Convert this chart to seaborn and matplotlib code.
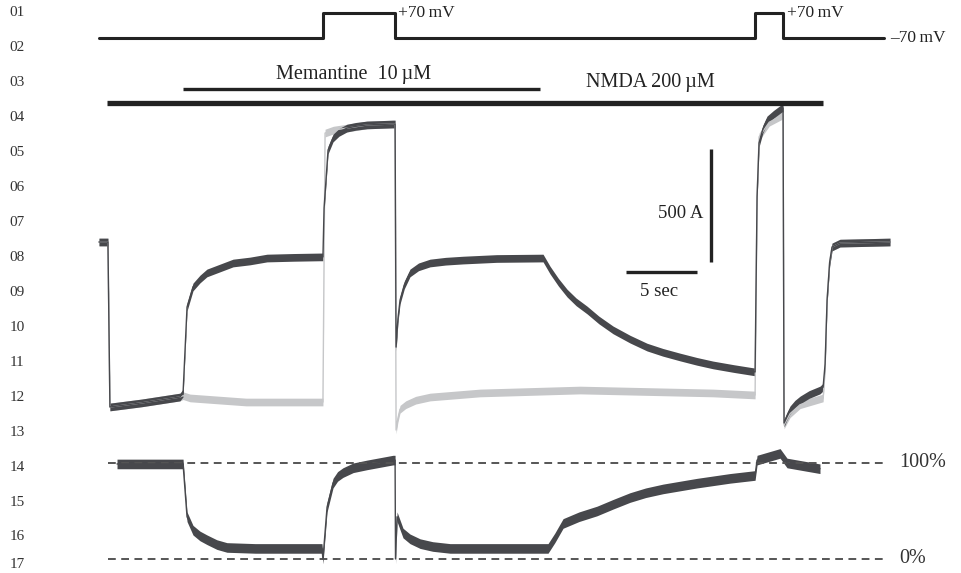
import pandas as pd
import matplotlib
matplotlib.use("Agg")
import matplotlib.pyplot as plt
import seaborn as sns

# command voltage protocol (s, mV)
v_time = [0, 15.77, 15.77, 20.85, 20.85, 46.20, 46.20, 48.17, 48.17, 55.28]
v_mV = [-70, -70, 70, 70, -70, -70, 70, 70, -70, -70]

# drug applications (start, end) in s
memantine_on = [5.92, 31.06]
nmda_on = [0.56, 50.99]

# current with memantine (dark) in pA
dark_t = [0, 0.63, 0.77, 3.0, 5.70, 5.92,
          6.20, 6.62, 7.11, 7.60, 8.52, 9.44, 10.63, 11.83, 13.7, 15.56, 15.77,
          15.85, 16.13, 16.48, 16.9, 17.46, 18.1, 18.87, 20.70, 20.85,
          20.92, 21.05, 21.20, 21.5, 21.90, 22.5, 23.31, 24.4, 25.63, 28.0, 31.27,
          31.76, 32.35, 32.96, 33.6, 34.37, 35.2, 36.20, 37.4, 38.59, 39.7, 40.92,
          42.1, 43.24, 44.7, 46.20,
          46.34, 46.48, 46.75, 47.04, 47.5, 48.10, 48.17,
          48.24, 48.45, 48.66, 49.0, 49.37, 50.0, 50.77, 50.99, 51.13, 51.27,
          51.45, 51.62, 52.18, 55.70]
dark_pA = [0, 0, -730, -712, -686, -668,
           -288, -199, -164, -137, -115, -93, -84, -71, -68, -66, -66,
           150, 407, 460, 485, 504, 512, 518, 522, 522,
           -465, -340, -257, -190, -137, -110, -93, -85, -80, -73, -71,
           -124, -178, -226, -265, -301, -345, -389, -430, -465, -488, -509,
           -528, -544, -560, -575,
           200, 438, 500, 540, 565, 593, 593,
           -801, -770, -743, -718, -699, -675, -655, -642, -540, -257,
           -90, -22, -5, 0]

# control current without memantine (light) in pA
gray_t = [0, 0.63, 0.77, 3.0, 5.70, 5.92, 6.41, 10.35, 15.56, 15.77,
          15.92, 16.5, 17.46, 18.87, 20.70, 20.85,
          20.92, 21.05, 21.20, 21.6, 22.3, 23.31, 26.83, 33.87, 43.24, 46.20,
          46.34, 46.48, 47.2, 48.17,
          48.24, 48.66, 49.37, 50.99, 51.13, 51.27, 51.45, 51.62, 52.18, 55.70]
gray_pA = [0, 0, -730, -712, -686, -680, -690, -708, -708, -708,
           482, 495, 504, 518, 522, 522,
           -832, -780, -740, -720, -700, -686, -668, -655, -668, -677,
           200, 465, 530, 562,
           -810, -760, -720, -690, -560, -257, -90, -22, -5, 0]

# ratio trace (%)
pct_t = [1.27, 5.92, 6.20, 6.62, 7.11, 7.61, 8.3, 9.01, 11.0, 14.15, 15.70,
         15.77, 16.06, 16.48, 16.8, 17.18, 17.9, 18.87, 20.70, 20.85,
         20.88, 20.99, 21.41, 21.9, 22.61, 23.5, 24.72, 31.62,
         32.1, 32.68, 33.8, 35.07, 36.2, 37.39, 38.5, 39.72, 42.11, 44.44, 46.20,
         46.34, 47.96, 48.45, 50.77]
pct = [99, 99, 44, 30, 24, 20, 15, 12, 11, 11, 11,
       0, 54, 79, 86, 90, 95, 98, 103, 103,
       0, 44, 27, 21, 16, 13, 11, 11,
       22, 37, 44, 50, 57, 64, 69, 73, 79, 84, 87,
       103, 110, 100, 94]

sns.set_theme(style="white")
plt.rcParams['font.family'] = ['Liberation Serif', 'DejaVu Serif']

fig = plt.figure(figsize=(9.61, 5.73), dpi=100)
xlim = (-6.97, 60.70)

ax_v = fig.add_axes([0, 0, 1, 1])
ax_i = fig.add_axes([0, 0, 1, 1])
ax_p = fig.add_axes([0, 0, 1, 1])
for ax in (ax_v, ax_i, ax_p):
    ax.set_xlim(*xlim)
    ax.set_axis_off()
    ax.patch.set_alpha(0)
ax_v.set_ylim(-3066, 142.8)
ax_i.set_ylim(-1464.6, 1070.8)
ax_p.set_ylim(-14.6, 582.3)

ink = "#222222"
trace = "#47484c"
light = "#c6c7c9"

# voltage protocol
sns.lineplot(x=v_time, y=v_mV, ax=ax_v, color=ink, lw=2.2, sort=False, estimator=None)
ax_v.text(21.06, 70, "+70\u2009mV", fontsize=12.5, va="center", ha="left", color=ink)
ax_v.text(48.45, 70, "+70\u2009mV", fontsize=12.5, va="center", ha="left", color=ink)
ax_v.text(55.70, -70, "\u201370\u2009mV", fontsize=12.5, va="center", ha="left", color=ink)

# drug bars
xt = ax_i.get_xaxis_transform()
ax_i.hlines(1 - 89 / 573, *memantine_on, transform=xt, color=ink, lw=2.4)
ax_i.hlines(1 - 103 / 573, *nmda_on, transform=xt, color=ink, lw=3.8)
ax_i.text(17.96, 1 - 74 / 573, "Memantine  10\u2009\u00b5M", transform=xt,
          fontsize=14.5, ha="center", va="center", color=ink)
ax_i.text(38.80, 1 - 83 / 573, "NMDA 200\u2009\u00b5M", transform=xt,
          fontsize=14.5, ha="center", va="center", color=ink)

# current traces
band = 17
df_g = pd.DataFrame({"t": gray_t, "I": gray_pA})
df_d = pd.DataFrame({"t": dark_t, "I": dark_pA})
ax_i.fill_between(df_g.t, df_g.I - band, df_g.I + band, color=light, lw=0)
sns.lineplot(data=df_g, x="t", y="I", ax=ax_i, color=light, lw=1.0, sort=False, estimator=None)
ax_i.fill_between(df_d.t, df_d.I - band, df_d.I + band, color=trace, lw=0)
sns.lineplot(data=df_d, x="t", y="I", ax=ax_i, color=trace, lw=1.0, sort=False, estimator=None)

# scale bars
ax_i.plot([37.11, 42.11], [-133, -133], color=ink, lw=2.4, solid_capstyle="butt")
ax_i.plot([43.10, 43.10], [-88.5, 411.5], color=ink, lw=2.4, solid_capstyle="butt")
ax_i.text(42.55, 128, "500 A", fontsize=13.5, ha="right", va="center", color=ink)
ax_i.text(39.45, -221, "5 sec", fontsize=13.5, ha="center", va="center", color=ink)

# ratio trace with reference lines
ax_p.hlines([100, 0], 0.63, 55.56, colors="#555555", lw=1.4, linestyles=(0, (4, 2.8)))
df_p = pd.DataFrame({"t": pct_t, "p": pct})
ax_p.fill_between(df_p.t, df_p.p - 5, df_p.p + 5, color=trace, lw=0)
sns.lineplot(data=df_p, x="t", y="p", ax=ax_p, color=trace, lw=1.0, sort=False, estimator=None)
ax_p.text(56.34, 100, "100%", fontsize=14.5, ha="left", va="center", color="#333333")
ax_p.text(56.34, 0, "0%", fontsize=14.5, ha="left", va="center", color="#333333")

# manuscript line numbers
for k in range(1, 18):
    y = min(13 + 34.93 * (k - 1), 565)
    fig.text(17 / 961, 1 - y / 573, f"{k:02d}", fontsize=11, ha="center",
             va="center", color="#333333")

fig.savefig("out.png", dpi=100)
